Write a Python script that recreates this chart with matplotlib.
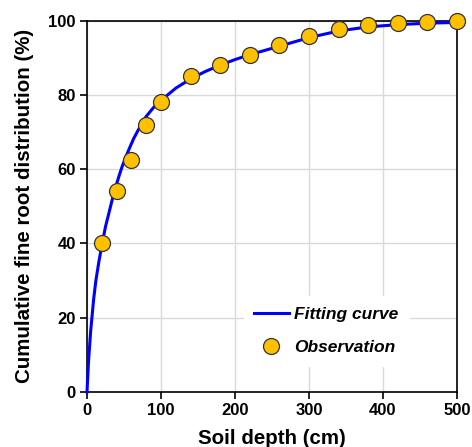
import matplotlib
matplotlib.use("Agg")
import matplotlib.pyplot as plt
from matplotlib.lines import Line2D

# Observations
obs_depth = [20, 40, 60, 80, 100, 140, 180, 220, 260, 300, 340, 380, 420, 460, 500]
obs_value = [40.0, 54.2, 62.5, 72.0, 78.0, 85.0, 88.1, 90.6, 93.3, 95.8, 97.7, 98.8, 99.3, 99.6, 100.0]

# Fitting curve
fit_depth = [0, 2, 5, 9, 12, 16, 21, 25, 30, 35, 40, 44, 48, 56, 63, 74, 80, 90, 100,
             120, 140, 160, 180, 200, 220, 260, 300, 340, 380, 420, 460, 500]
fit_value = [0, 8.0, 16.5, 25.0, 30.0, 35.0, 40.5, 44.5, 48.5, 52.5, 56.0, 58.6, 61.0,
             65.0, 68.2, 72.3, 74.2, 76.6, 78.5, 81.8, 84.3, 86.3, 88.0, 89.5, 90.8, 93.1,
             95.4, 97.2, 98.3, 98.9, 99.3, 99.5]

x_ticks = [0, 100, 200, 300, 400, 500]
y_ticks = [0, 20, 40, 60, 80, 100]

plt.rcParams['font.family'] = ['Liberation Sans', 'DejaVu Sans']

fig = plt.figure(figsize=(4.72, 4.47), dpi=100)
ax = fig.add_axes([0.1843, 0.123, 0.7839, 0.831])

ax.grid(True, color='#d9d9d9', linewidth=1.0, zorder=0)
ax.set_axisbelow(True)

ax.plot(fit_depth, fit_value, color='#0000ff', linewidth=2.2, zorder=3, clip_on=False)
ax.plot(obs_depth, obs_value, linestyle='none', marker='o', markersize=11.5,
        markerfacecolor='#ffc000', markeredgecolor='#333333', markeredgewidth=0.9,
        zorder=4, clip_on=False)

ax.set_xlim(0, 500)
ax.set_ylim(0, 100)
ax.set_xticks(x_ticks)
ax.set_yticks(y_ticks)
ax.tick_params(axis='both', direction='out', length=5, width=1.2, labelsize=12,
               pad=3, top=False, right=False)
for lbl in ax.get_xticklabels() + ax.get_yticklabels():
    lbl.set_fontweight('bold')
for s in ax.spines.values():
    s.set_linewidth(1.2)
    s.set_color('black')

ax.set_xlabel('Soil depth (cm)', fontsize=14.8, fontweight='bold', labelpad=8)
ax.set_ylabel('Cumulative fine root distribution (%)', fontsize=14.8, fontweight='bold', labelpad=10)

handles = [Line2D([0], [0], color='#0000ff', linewidth=2.2),
           Line2D([0], [0], linestyle='none', marker='o', markersize=11.5,
                  markerfacecolor='#ffc000', markeredgecolor='#333333', markeredgewidth=0.9)]
leg = ax.legend(handles, ['Fitting curve', 'Observation'], loc='lower left',
                bbox_to_anchor=(0.40, 0.048), frameon=True, fancybox=False,
                facecolor='white', edgecolor='white', framealpha=1.0,
                prop={'size': 12.5, 'weight': 'bold', 'style': 'italic'},
                handlelength=2.0, handletextpad=0.3, labelspacing=1.05,
                borderpad=0.6)
leg.set_zorder(5)

fig.savefig('out.png', dpi=100)
